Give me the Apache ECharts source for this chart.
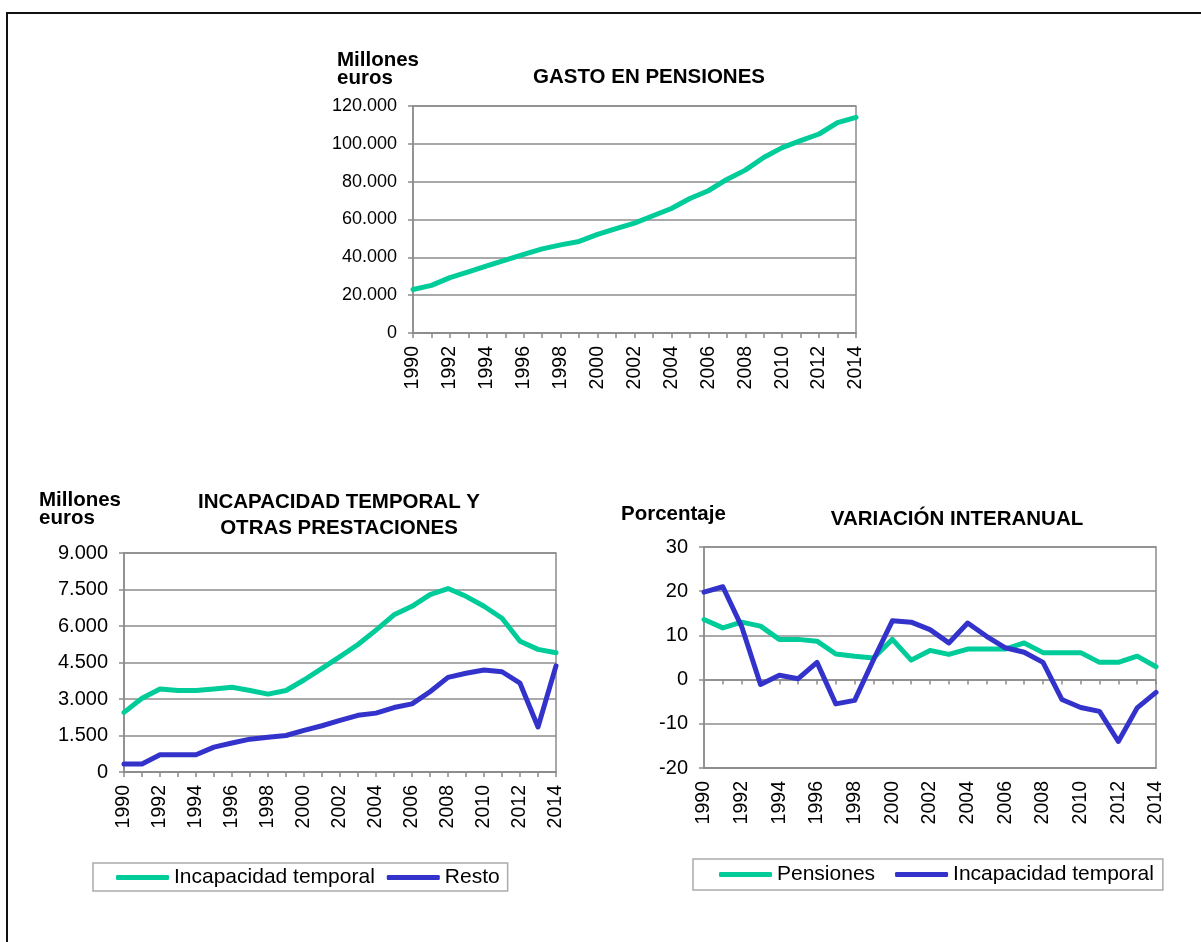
<!DOCTYPE html>
<html>
<head>
<meta charset="utf-8">
<script src="https://cdn.jsdelivr.net/npm/echarts@6/dist/echarts.min.js"></script>
<style>
  html, body { margin: 0; padding: 0; background: #fff; }
  #wrap { position: relative; width: 1201px; height: 942px; overflow: hidden; background: #fff; }
  #frame { position: absolute; left: 6px; top: 12px; width: 1400px; height: 1200px; border-top: 2px solid #111; border-left: 2px solid #111; }
  .ch { position: absolute; left: 0; top: 0; width: 1201px; height: 942px; }
</style>
</head>
<body>
<div id="wrap">
  <div id="frame"></div>
  <div id="cA" class="ch"></div>
  <div id="cB" class="ch"></div>
  <div id="cC" class="ch"></div>
</div>
<script>
// ---- data ----
const years = ['1990','1991','1992','1993','1994','1995','1996','1997','1998','1999','2000','2001','2002','2003','2004','2005','2006','2007','2008','2009','2010','2011','2012','2013','2014'];

// Gasto en pensiones (millones de euros)
const gastoPensiones = [23000, 25200, 29300, 32300, 35500, 38500, 41600, 44500, 46600, 48400, 52100, 55200, 58100, 62000, 65800, 71100, 75200, 81200, 86100, 92800, 98000, 101700, 105200, 111200, 114000];

// Incapacidad temporal y otras prestaciones (millones de euros)
const incapacidadTemporal = [2450, 3030, 3410, 3350, 3350, 3410, 3480, 3350, 3200, 3350, 3780, 4260, 4740, 5240, 5830, 6460, 6810, 7290, 7540, 7220, 6810, 6320, 5370, 5040, 4900];
const resto = [330, 330, 710, 710, 710, 1020, 1190, 1350, 1430, 1500, 1710, 1900, 2120, 2330, 2420, 2650, 2800, 3300, 3890, 4060, 4190, 4120, 3650, 1850, 4360];

// Variacion interanual (porcentaje)
const varPensiones = [13.6, 11.7, 13.0, 12.1, 9.1, 9.1, 8.7, 5.8, 5.3, 4.9, 9.1, 4.4, 6.6, 5.7, 6.9, 6.9, 6.9, 8.3, 6.1, 6.1, 6.1, 3.9, 3.9, 5.3, 2.9];
const varIncapacidad = [19.8, 21.0, 12.0, -1.1, 1.0, 0.2, 3.9, -5.5, -4.7, 4.5, 13.3, 13.0, 11.3, 8.3, 12.8, 9.8, 7.2, 6.2, 3.9, -4.5, -6.3, -7.2, -14.0, -6.4, -2.9];

const seriesNamesB = ['Incapacidad temporal', 'Resto'];
const seriesNamesC = ['Pensiones', 'Incapacidad temporal'];

const titleA = 'GASTO EN PENSIONES';
const titleB = 'INCAPACIDAD TEMPORAL Y\nOTRAS PRESTACIONES';
const titleC = 'VARIACIÓN INTERANUAL';
const unitAB = 'Millones\neuros';
const unitC = 'Porcentaje';

// ---- style ----
const GREEN = '#00CC99';
const BLUE = '#3333CC';
const GRID = '#8c8c8c';
const FONT = '"Liberation Sans", Arial, sans-serif';
const BOLD_FS = 20.5;

function thousands(v) {
  const s = String(Math.abs(v)).replace(/\B(?=(\d{3})+(?!\d))/g, '.');
  return (v < 0 ? '-' : '') + s;
}

function xAxisCommon(extra) {
  return Object.assign({
    type: 'category',
    data: years,
    boundaryGap: false,
    axisLine: { show: true, onZero: false, lineStyle: { color: GRID, width: 1.5 } },
    axisTick: { show: true, interval: 0, length: 5, lineStyle: { color: GRID, width: 1.5 } },
    axisLabel: { rotate: 90, interval: 1, fontSize: 19.5, color: '#000', fontFamily: FONT, margin: 13 },
    splitLine: { show: false }
  }, extra || {});
}

function yAxisCommon(min, max, interval, fs) {
  return {
    type: 'value',
    min: min, max: max, interval: interval,
    axisLine: { show: true, lineStyle: { color: GRID, width: 1.5 } },
    axisTick: { show: true, length: 5, lineStyle: { color: GRID, width: 1.5 } },
    axisLabel: { fontSize: fs, color: '#000', fontFamily: FONT, margin: 16, formatter: thousands },
    splitLine: { show: true, lineStyle: { color: GRID, width: 1.5 } }
  };
}

function lineSeries(name, data, color, extra) {
  return Object.assign({
    type: 'line', name: name, data: data, color: color,
    symbol: 'none', smooth: false, silent: true,
    lineStyle: { color: color, width: 5, cap: 'round', join: 'round' }
  }, extra || {});
}

function boldText(x, y, text, align, fs, lh) {
  return {
    type: 'text', x: x, y: y,
    style: { text: text, fill: '#000', font: 'bold ' + fs + 'px ' + FONT, textAlign: align, textVerticalAlign: 'middle', lineHeight: lh || fs }
  };
}

function legendCommon(left, top, names, gap, padding) {
  return {
    left: left, top: top,
    data: names,
    icon: 'roundRect', itemWidth: 53, itemHeight: 5, itemGap: gap,
    padding: padding,
    borderColor: '#aaaaaa', borderWidth: 1.5,
    textStyle: { fontSize: 21, color: '#000', fontFamily: FONT },
    selectedMode: false
  };
}

// ---- chart A ----
const cA = echarts.init(document.getElementById('cA'), null, { renderer: 'canvas' });
cA.setOption({
  animation: false,
  grid: { left: 413, top: 106, width: 443, height: 227, show: true, borderColor: GRID, borderWidth: 1.5, containLabel: false },
  xAxis: xAxisCommon(),
  yAxis: yAxisCommon(0, 120000, 20000, 18),
  series: [lineSeries('Pensiones', gastoPensiones, GREEN)],
  graphic: [
    boldText(337, 69, unitAB, 'left', BOLD_FS, 18),
    boldText(649, 77, titleA, 'center', BOLD_FS)
  ]
});

// ---- chart B ----
const cB = echarts.init(document.getElementById('cB'), null, { renderer: 'canvas' });
cB.setOption({
  animation: false,
  grid: { left: 124, top: 553, width: 432, height: 219, show: true, borderColor: GRID, borderWidth: 1.5, containLabel: false },
  xAxis: xAxisCommon(),
  yAxis: yAxisCommon(0, 9000, 1500, 20),
  legend: legendCommon(93, 863, seriesNamesB, 12, [4, 8, 3, 23]),
  series: [
    lineSeries(seriesNamesB[0], incapacidadTemporal, GREEN),
    lineSeries(seriesNamesB[1], resto, BLUE)
  ],
  graphic: [
    boldText(39, 509, unitAB, 'left', BOLD_FS, 18),
    boldText(339, 515, titleB, 'center', BOLD_FS, 26)
  ]
});

// ---- chart C ----
const cC = echarts.init(document.getElementById('cC'), null, { renderer: 'canvas' });
cC.setOption({
  animation: false,
  grid: { left: 704, top: 547, width: 452, height: 221, show: true, borderColor: GRID, borderWidth: 1.5, containLabel: false },
  xAxis: [
    xAxisCommon({ position: 'bottom', axisTick: { show: false } }),
    xAxisCommon({
      position: 'bottom',
      axisLine: { show: true, onZero: true, lineStyle: { color: GRID, width: 1.5 } },
      axisLabel: { show: false }
    })
  ],
  yAxis: yAxisCommon(-20, 30, 10, 20),
  legend: legendCommon(693, 859, seriesNamesC, 20, [5, 9, 5, 26]),
  series: [
    lineSeries(seriesNamesC[0], varPensiones, GREEN, { xAxisIndex: 0 }),
    lineSeries(seriesNamesC[1], varIncapacidad, BLUE, { xAxisIndex: 0 })
  ],
  graphic: [
    boldText(621, 514, unitC, 'left', BOLD_FS),
    boldText(957, 519, titleC, 'center', BOLD_FS)
  ]
});
</script>
</body>
</html>
